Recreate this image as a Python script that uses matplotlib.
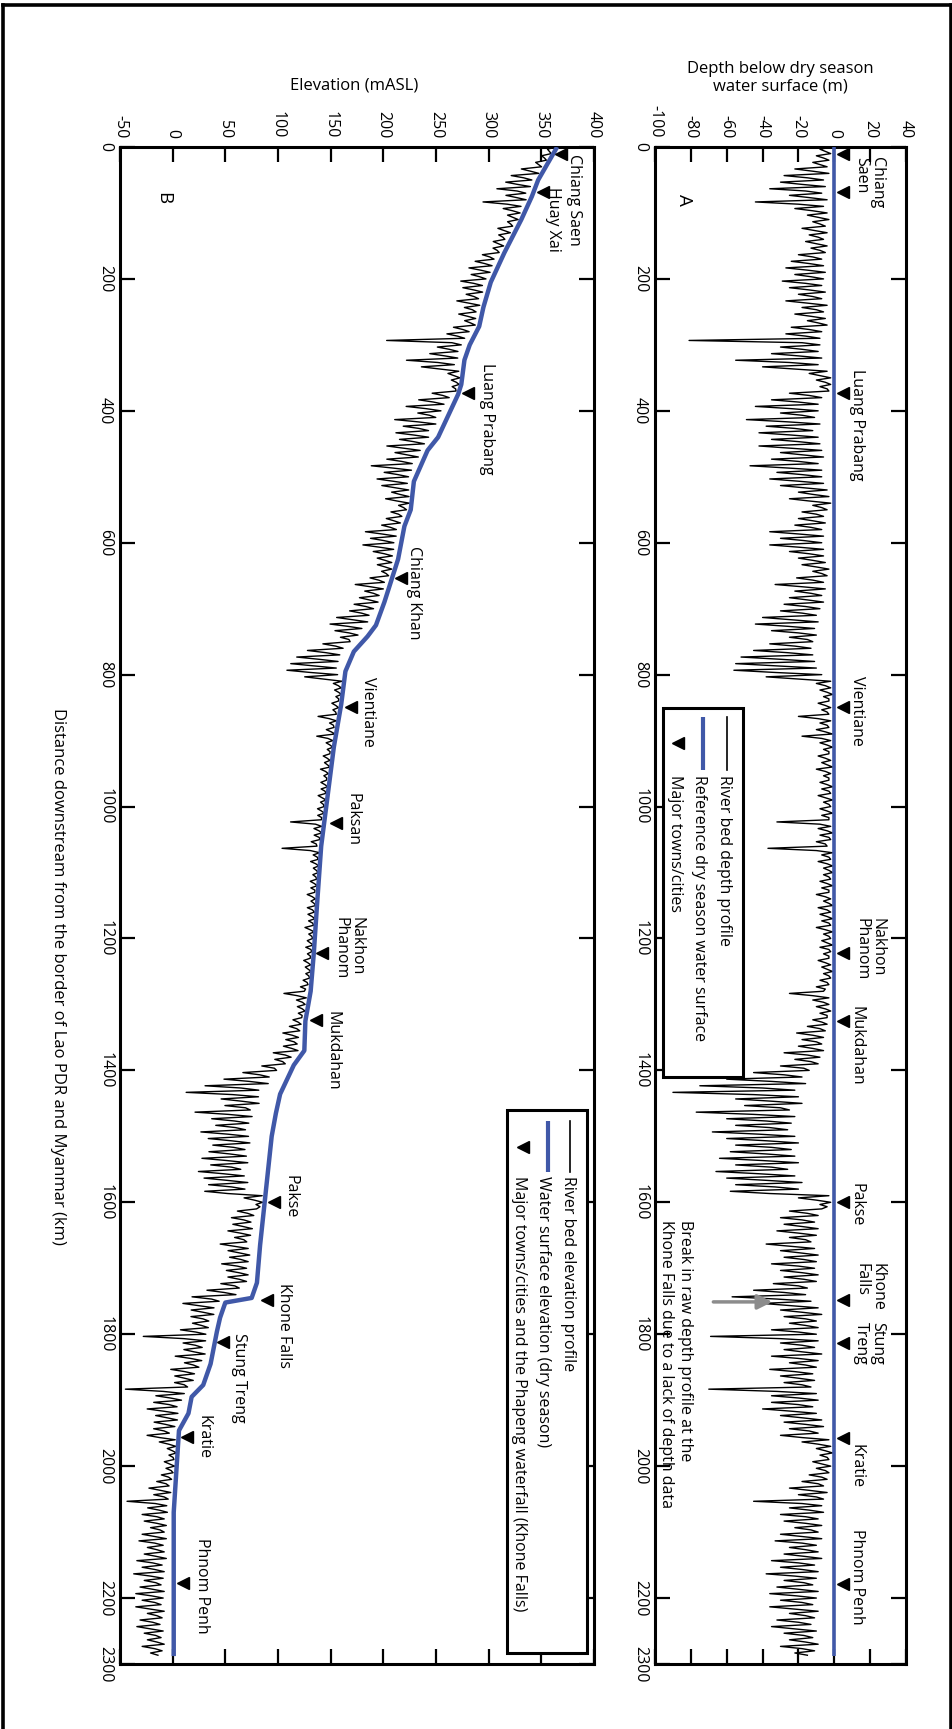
import numpy as np
import matplotlib
matplotlib.use('Agg')
import matplotlib.pyplot as plt
from matplotlib.lines import Line2D
from matplotlib.patches import Rectangle

plt.rcParams['font.family'] = ['Open Sans', 'DejaVu Sans']
plt.rcParams['axes.unicode_minus'] = False
FS = 11.5

# ---------------- data ----------------
bin_km = np.arange(0, 2290, 10)          # 10 km bins along the river
depth_shallow = [
    -1, -2, -3, -4, -3, -6, -5, -7, -4, -6,
    -4, -3, -5, -4, -6, -4, -5, -7, -6, -5,
    -6, -7, -5, -7, -4, -6, -5, -4, -7, -8,
    -8, -9, -7, -9, -4, -2, -2, -3, -7, -9,
    -9, -11, -8, -12, -9, -8, -7, -6, -9, -7,
    -7, -6, -4, -3, -2, -4, -6, -5, -7, -6,
    -7, -6, -6, -5, -3, -4, -6, -5, -7, -6,
    -8, -10, -9, -11, -10, -12, -13, -12, -11, -10,
    -7, -2, -2, -1, -3, -2, -3, -2, -3, -1,
    -2, -1, -3, -2, -1, -2, -3, -1, -2, -1,
    -2, -1, -3, -2, -1, -2, -4, -1, -2, -1,
    -1, -2, -1, -3, -2, -1, -2, -1, -2, -1,
    -2, -1, -2, -3, -2, -1, -2, -3, -6, -3,
    -3, -2, -4, -4, -5, -6, -7, -6, -8, -9,
    -14, -18, -16, -22, -20, -18, -25, -22, -24, -26,
    -22, -20, -24, -22, -20, -26, -22, -18, -20, -3,
    -2, -7, -9, -11, -9, -10, -13, -11, -9, -10,
    -11, -9, -10, -15, -16, -13, -9, -7, -10, -9,
    -10, -9, -11, -7, -9, -10, -12, -11, -13, -10,
    -9, -12, -10, -7, -6, -9, -3, -2, -1, -3,
    -2, -3, -4, -6, -4, -6, -7, -6, -9, -7,
    -9, -7, -10, -9, -7, -11, -9, -10, -12, -9,
    -10, -12, -9, -11, -13, -10, -12, -9, -11,
]
depth_deep = [
    -8, -10, -12, -22, -28, -30, -36, -25, -44, -22,
    -15, -12, -18, -14, -16, -13, -20, -24, -27, -22,
    -29, -25, -20, -27, -18, -22, -15, -24, -27, -81,
    -30, -35, -55, -40, -14, -10, -8, -25, -35, -44,
    -30, -49, -38, -42, -35, -42, -30, -35, -47, -32,
    -36, -30, -20, -25, -12, -18, -20, -22, -36, -30,
    -36, -25, -20, -18, -12, -21, -33, -22, -25, -28,
    -30, -40, -44, -35, -25, -36, -45, -52, -55, -56,
    -38, -10, -8, -6, -9, -7, -20, -8, -10, -18,
    -8, -6, -9, -7, -10, -6, -8, -7, -9, -6,
    -8, -7, -32, -9, -8, -10, -37, -7, -9, -6,
    -6, -8, -7, -10, -6, -9, -8, -7, -10, -6,
    -7, -8, -6, -9, -7, -6, -8, -10, -25, -12,
    -10, -8, -12, -15, -21, -18, -20, -28, -22, -30,
    -45, -60, -75, -90, -55, -50, -77, -60, -55, -68,
    -60, -55, -58, -64, -55, -66, -60, -55, -58, -20,
    -8, -25, -30, -28, -32, -25, -38, -30, -28, -35,
    -30, -28, -34, -45, -57, -40, -30, -28, -25, -35,
    -69, -30, -28, -35, -25, -36, -30, -28, -70, -35,
    -35, -40, -30, -28, -25, -30, -18, -10, -8, -12,
    -10, -14, -18, -25, -20, -45, -25, -30, -28, -22,
    -30, -33, -25, -28, -35, -30, -38, -28, -32, -36,
    -30, -36, -25, -32, -35, -28, -25, -30, -22,
]
depth_mid = [
    -5, -6, -8, -12, -15, -18, -16, -14, -20, -12,
    -9, -8, -11, -9, -10, -8, -12, -14, -15, -13,
    -16, -14, -12, -15, -10, -13, -9, -14, -16, -18,
    -18, -20, -25, -22, -8, -5, -4, -14, -20, -24,
    -18, -26, -22, -24, -20, -24, -18, -20, -26, -18,
    -20, -17, -12, -14, -7, -10, -12, -13, -20, -17,
    -20, -14, -12, -10, -7, -12, -18, -13, -15, -16,
    -18, -24, -26, -20, -15, -22, -26, -30, -32, -33,
    -20, -5, -4, -3, -5, -4, -9, -4, -5, -7,
    -4, -3, -5, -4, -5, -3, -4, -3, -5, -3,
    -4, -3, -8, -4, -3, -5, -10, -3, -4, -3,
    -3, -4, -3, -5, -3, -4, -4, -3, -5, -3,
    -4, -3, -3, -5, -4, -3, -4, -5, -12, -6,
    -5, -4, -7, -8, -12, -10, -12, -15, -13, -17,
    -28, -35, -40, -45, -35, -30, -45, -38, -36, -42,
    -38, -35, -38, -40, -35, -42, -38, -33, -36, -10,
    -4, -15, -18, -18, -20, -16, -24, -19, -17, -20,
    -18, -17, -20, -28, -32, -24, -18, -16, -16, -20,
    -30, -18, -18, -20, -16, -22, -20, -18, -32, -20,
    -20, -24, -18, -16, -14, -18, -9, -5, -4, -7,
    -5, -7, -9, -14, -10, -18, -14, -16, -16, -13,
    -18, -18, -16, -17, -20, -18, -22, -17, -20, -21,
    -18, -22, -16, -20, -22, -17, -16, -18, -15,
]

# reference dry-season water surface (panel A) and water surface elevation (panel B)
ref_km = [0, 2288]
ref_depth = [0, 0]
water_km = [0, 50, 75, 110, 160, 205, 243, 272, 300, 323, 360, 375, 440, 460, 507,
            550, 575, 625, 690, 725, 742, 765, 795, 845, 910, 985, 1060, 1150, 1222,
            1280, 1325, 1370, 1392, 1436, 1465, 1500, 1560, 1605, 1665, 1722, 1745,
            1752, 1775, 1796, 1845, 1877, 1895, 1920, 1946, 1995, 2070, 2288]
water_elev = [365, 347, 341, 331, 315, 302, 295, 291, 282, 277, 274, 271, 252, 242, 229,
              226, 220, 214, 201, 193, 185, 172, 164, 160, 153, 147, 141, 137, 134,
              131, 126, 125, 115, 102, 98, 94, 90, 87, 83, 80, 75,
              50, 45, 42, 36, 29, 18, 15, 6, 4, 1, 1]

# towns, panel A
townA_km = [11, 68, 373, 849, 1222, 1325, 1599, 1748, 1814, 1958, 2178]
townA_depth = [5, 5, 5, 5, 5, 5, 5, 5, 5, 5, 5]
labA_text = ["Chiang\nSaen", "Luang Prabang", "Vientiane", "Nakhon\nPhanom", "Mukdahan",
             "Pakse", "Khone\nFalls", "Stung\nTreng", "Kratie", "Phnom Penh"]
labA_depth = [19.5, 12.5, 12.5, 19.5, 12.5, 12.5, 19.5, 19.5, 12.5, 12.5]
labA_km = [15, 421, 855, 1169, 1362, 1604, 1692, 1782, 2000, 2168]
labA_ha = ["left", "center", "center", "left", "center", "center", "left", "left", "center", "center"]

# towns, panel B
townB_names = ["Chiang Saen", "Huay Xai", "Luang Prabang", "Chiang Khan", "Vientiane", "Paksan",
               "Nakhon\nPhanom", "Mukdahan", "Pakse", "Khone Falls", "Stung Treng", "Kratie",
               "Phnom Penh"]
townB_km = [11, 68, 373, 653, 849, 1025, 1222, 1324, 1599, 1748, 1812, 1956, 2177]
townB_elev = [369, 352, 280, 217, 169, 155, 142, 136, 96, 90, 48, 14, 10]
labB_elev = [381, 361, 298, 229, 185, 171, 167, 152, 112, 106, 63, 29, 28]
labB_km = [80, 110, 412, 676, 856, 1020, 1167, 1370, 1592, 1787, 1866, 1956, 2182]
labB_ha = ["center"] * 6 + ["left"] + ["center"] * 6

xticksA = list(range(-100, 41, 20))
xticksB = list(range(-50, 401, 50))
dist_ticks = list(range(0, 2201, 200)) + [2300]

# ---------------- derived series ----------------
km_profile = np.column_stack([bin_km, bin_km + 3.3, bin_km + 6.7]).ravel()
depth_profile = np.column_stack([depth_shallow, depth_deep, depth_mid]).ravel()
bed_elev = np.interp(km_profile, water_km, water_elev) + depth_profile

BLUE = '#4058a8'
W, H = 953, 1729
fig = plt.figure(figsize=(W / 100, H / 100), dpi=100)
axB = fig.add_axes([120 / W, 65 / H, 474 / W, 1517 / H])
axA = fig.add_axes([655 / W, 65 / H, 251 / W, 1517 / H])


def style(ax, xlim, xticks):
    ax.set_xlim(*xlim)
    ax.set_ylim(2300, 0)
    ax.set_xticks(xticks)
    ax.set_yticks(dist_ticks)
    ax.set_yticklabels([str(t) for t in dist_ticks])
    ax.xaxis.tick_top()
    ax.tick_params(axis='both', which='major', direction='in', length=11, width=1.6,
                   top=True, bottom=True, left=True, right=True,
                   labeltop=True, labelbottom=False, labelleft=True, labelright=False,
                   labelsize=FS, labelrotation=-90, color='black')
    ax.tick_params(axis='x', pad=6.5)
    ax.tick_params(axis='y', pad=5)
    for lbl in ax.get_yticklabels():
        lbl.set_va('center')
    for s in ax.spines.values():
        s.set_linewidth(2.2)


style(axA, (-100, 40), xticksA)
style(axB, (-50, 400), xticksB)

# ---- panel A ----
axA.plot(depth_profile, km_profile, color='black', lw=1.0, zorder=2)
axA.plot(ref_depth, ref_km, color=BLUE, lw=2.6, zorder=3, solid_capstyle='butt')
axA.plot(townA_depth, townA_km, ls='none', marker='<', color='black', ms=9, zorder=4)
for t, x, y, ha in zip(labA_text, labA_depth, labA_km, labA_ha):
    axA.text(x, y, t, rotation=-90, rotation_mode='anchor', ha=ha, va='center',
             fontsize=FS, multialignment='left', linespacing=1.0)
axA.text(-84, 80, "A", rotation=-90, rotation_mode='anchor', ha='center', va='center',
         fontsize=FS + 2)
axA.annotate('', xy=(-33, 1751), xytext=(-69, 1751),
             arrowprops=dict(arrowstyle='-|>', color='#8c8c8c', lw=2.5, mutation_scale=22))
axA.text(-88.5, 1627, "Break in raw depth profile at the\nKhone Falls due to a lack of depth data",
         rotation=-90, rotation_mode='anchor', ha='left', va='center', fontsize=FS,
         multialignment='left', linespacing=1.3)

# legend A (drawn rotated)
axA.add_patch(Rectangle((0.032, 0.387), 0.318, 0.243, transform=axA.transAxes,
                        facecolor='white', edgecolor='black', lw=2.2, zorder=5))
axA.plot([0.287, 0.287], [0.624, 0.589], transform=axA.transAxes, color='black', lw=1.2, zorder=6)
axA.plot([0.191, 0.191], [0.624, 0.589], transform=axA.transAxes, color=BLUE, lw=3, zorder=6,
         solid_capstyle='butt')
axA.plot([0.092], [0.607], transform=axA.transAxes, marker='<', color='black', ms=9, zorder=6)
for x, t in zip([0.275, 0.177, 0.080],
                ["River bed depth profile", "Reference dry season water surface",
                 "Major towns/cities"]):
    axA.text(x, 0.586, t, transform=axA.transAxes, rotation=-90, rotation_mode='anchor',
             ha='left', va='center', fontsize=FS, zorder=6)

# ---- panel B ----
axB.plot(bed_elev, km_profile, color='black', lw=1.0, zorder=2)
axB.plot(water_elev, water_km, color=BLUE, lw=3.2, zorder=3, solid_capstyle='butt')
axB.plot(townB_elev, townB_km, ls='none', marker='<', color='black', ms=9, zorder=4)
for t, x, y, ha in zip(townB_names, labB_elev, labB_km, labB_ha):
    axB.text(x, y, t, rotation=-90, rotation_mode='anchor', ha=ha, va='center',
             fontsize=FS, multialignment='left', linespacing=1.0)
axB.text(-9, 77, "B", rotation=-90, rotation_mode='anchor', ha='center', va='center',
         fontsize=FS + 2)

axB.add_patch(Rectangle((0.816, 0.007), 0.169, 0.358, transform=axB.transAxes,
                        facecolor='white', edgecolor='black', lw=2.2, zorder=5))
axB.plot([0.949, 0.949], [0.358, 0.324], transform=axB.transAxes, color='black', lw=1.2, zorder=6)
axB.plot([0.903, 0.903], [0.358, 0.324], transform=axB.transAxes, color=BLUE, lw=3, zorder=6,
         solid_capstyle='butt')
axB.plot([0.850], [0.341], transform=axB.transAxes, marker='<', color='black', ms=9, zorder=6)
for x, t in zip([0.945, 0.893, 0.842],
                ["River bed elevation profile", "Water surface elevation (dry season)",
                 "Major towns/cities and the Phapeng waterfall (Khone Falls)"]):
    axB.text(x, 0.322, t, transform=axB.transAxes, rotation=-90, rotation_mode='anchor',
             ha='left', va='center', fontsize=FS, zorder=6)

# ---- figure-level text ----
fig.text(354 / W, 1 - 86 / H, "Elevation (mASL)", ha='center', va='center', fontsize=12)
fig.text(780 / W, 1 - 78 / H, "Depth below dry season\nwater surface (m)", ha='center',
         va='center', fontsize=12, linespacing=1.15)
fig.text(58 / W, 1 - 976 / H,
         "Distance downstream from the border of Lao PDR and Myanmar (km)",
         rotation=-90, ha='center', va='center', fontsize=12)

# outer frame
for xs, ys in [([3 / W, 3 / W], [0, 1 - 5 / H]),
               ([3 / W, 951 / W], [1 - 5 / H, 1 - 5 / H]),
               ([951 / W, 951 / W], [0, 1 - 5 / H])]:
    fig.add_artist(Line2D(xs, ys, transform=fig.transFigure, color='black', lw=2.6))

fig.savefig('out.png', dpi=100)
